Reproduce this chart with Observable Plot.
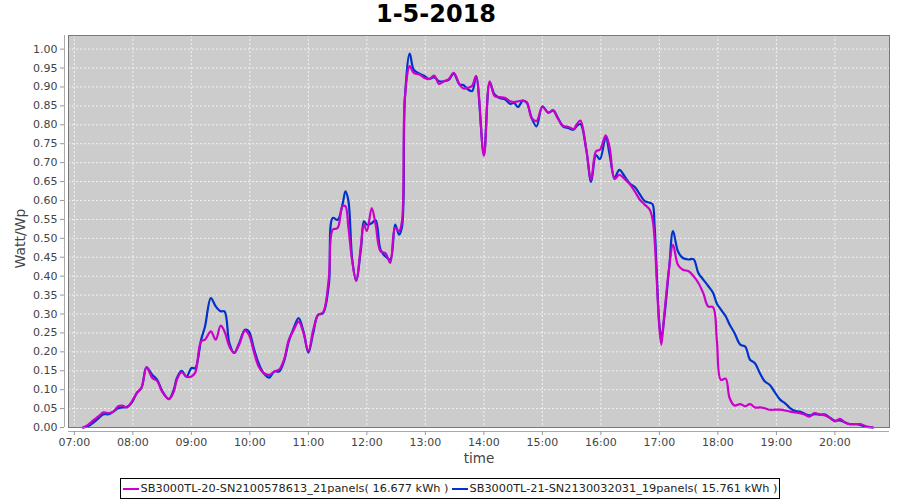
<!DOCTYPE html>
<html><head><meta charset="utf-8">
<script src="https://cdn.jsdelivr.net/npm/d3@7"></script>
<script src="https://cdn.jsdelivr.net/npm/@observablehq/plot@0.6"></script>
<style>
html,body{margin:0;padding:0;background:#fff;width:900px;height:500px;overflow:hidden;font-family:"DejaVu Sans",sans-serif;}
#title{height:28px;line-height:28px;font-weight:bold;font-size:24px;color:#000;text-align:center;padding-right:28px;}
#chart svg{display:block;}
#legendWrap{display:flex;justify-content:center;margin-top:8px;height:21px;}
#legend{display:flex;align-items:center;border:1px solid #000;height:19px;padding:0 2px;font-size:11.3px;color:#222;white-space:nowrap;line-height:19px;}
.sw{display:inline-block;width:16px;height:2px;margin-right:2px;}
.item{display:inline-flex;align-items:center;margin-right:3px;}
.item:last-child{margin-right:0;}
</style></head><body>
<div id="title">1-5-2018</div>
<div id="chart"></div>
<div id="legendWrap"><div id="legend"></div></div>
<script>
// ---- data ----
const seriesNames = ["SB3000TL-20-SN2100578613_21panels( 16.677 kWh )", "SB3000TL-21-SN2130032031_19panels( 15.761 kWh )"];
const seriesColors = ["#cc00cc", "#0033cc"];
const hourLabels = ["07:00","08:00","09:00","10:00","11:00","12:00","13:00","14:00","15:00","16:00","17:00","18:00","19:00","20:00"];
const yTicks = [0,0.05,0.1,0.15,0.2,0.25,0.3,0.35,0.4,0.45,0.5,0.55,0.6,0.65,0.7,0.75,0.8,0.85,0.9,0.95,1.0];
const xRange = ["06:54","20:56"];
const times = [
"07:09","07:14","07:20","07:25","07:30","07:35","07:40","07:45","07:49","07:54","07:59",
"08:04","08:09","08:14","08:20","08:25","08:30","08:37","08:42","08:45","08:50","08:55",
"09:00","09:04","09:10","09:14","09:20","09:25","09:30","09:34","09:39","09:44","09:49","09:55","09:59",
"10:04","10:09","10:14","10:20","10:25","10:30","10:35","10:40","10:45","10:50","10:55","11:00",
"11:05","11:10","11:15","11:21","11:25","11:30","11:35","11:38","11:41","11:45","11:49","11:54","11:57",
"12:00","12:05","12:09","12:14","12:19","12:24","12:29","12:33","12:36","12:39","12:44","12:48","12:54","12:59",
"13:04","13:09","13:14","13:19","13:24","13:29","13:35","13:39","13:44","13:48","13:52",
"14:00","14:06","14:11","14:16","14:22","14:27","14:31","14:35","14:40","14:44","14:49","14:54",
"15:00","15:06","15:11","15:16","15:21","15:27","15:32","15:35","15:39","15:45","15:50","15:55","15:59",
"16:05","16:09","16:14","16:19","16:25","16:30","16:35","16:40","16:45","16:50","16:53","16:55",
"17:00","17:02","17:05","17:10","17:14","17:19","17:24","17:30","17:35","17:40","17:45","17:50","17:55","17:59",
"18:03","18:08","18:12","18:17","18:23","18:28","18:33","18:38","18:43","18:48","18:53","18:58",
"19:04","19:09","19:14","19:19","19:24","19:29","19:34","19:39","19:45","19:50","19:55",
"20:00","20:05","20:10","20:15","20:21","20:26","20:31","20:39"
];
const magentaValues = [
0,.007,.02,.03,.04,.038,.042,.056,.058,.053,.069,
.091,.106,.159,.131,.123,.095,.075,.095,.125,.146,.134,
.135,.145,.228,.232,.254,.232,.269,.254,.214,.197,.219,.256,.245,
.201,.161,.144,.139,.148,.153,.179,.232,.258,.28,.25,.201,
.258,.298,.304,.395,.523,.527,.585,.585,.53,.439,.388,.483,.536,
.519,.58,.536,.466,.461,.435,.527,.519,.545,.871,.955,.937,.933,.924,
.921,.93,.908,.915,.921,.937,.907,.896,.898,.903,.929,
.718,.915,.876,.873,.871,.862,.86,.862,.864,.86,.818,.81,
.847,.832,.838,.816,.798,.794,.789,.8,.811,.735,.655,.73,.734,
.772,.74,.657,.668,.655,.642,.623,.602,.589,.576,.55,.5,
.263,.219,.298,.422,.483,.43,.417,.413,.4,.382,.355,.32,.318,.228,
.126,.129,.078,.058,.062,.056,.062,.053,.053,.051,.047,.047,
.047,.045,.042,.04,.038,.034,.029,.038,.034,.032,.025,
.016,.023,.014,.009,.009,.009,.004,0
];
const blueValues = [
0,.003,.014,.025,.035,.035,.042,.051,.053,.054,.066,
.091,.106,.159,.139,.126,.097,.075,.1,.13,.15,.134,
.157,.157,.232,.267,.342,.32,.307,.307,.223,.197,.223,.258,.254,
.21,.17,.144,.132,.148,.148,.175,.228,.263,.289,.254,.198,
.25,.298,.302,.377,.554,.549,.589,.624,.6,.444,.388,.474,.545,
.536,.54,.548,.47,.452,.444,.536,.51,.53,.871,.988,.946,.935,.929,
.921,.926,.915,.915,.919,.935,.907,.905,.893,.889,.929,
.722,.911,.88,.871,.867,.855,.858,.847,.864,.858,.818,.796,
.849,.832,.838,.818,.796,.791,.787,.796,.802,.735,.649,.72,.709,
.767,.721,.66,.681,.661,.644,.635,.616,.598,.594,.59,.536,
.272,.236,.29,.422,.519,.466,.448,.444,.445,.408,.391,.374,.356,.327,
.312,.294,.272,.25,.219,.214,.179,.17,.144,.122,.113,.095,
.073,.064,.051,.044,.042,.036,.032,.035,.034,.034,.026,
.018,.019,.014,.009,.009,.007,.002,0
];

// ---- build ----
const toDate = s => new Date(Date.UTC(2018, 4, 1, +s.slice(0, 2), +s.slice(3, 5)));
const magenta = times.map((t, i) => ({t: toDate(t), v: magentaValues[i]}));
const blue = times.map((t, i) => ({t: toDate(t), v: blueValues[i]}));
const xTicks = hourLabels.map(toDate);
const fmt = d3.utcFormat("%H:%M");

const chart = Plot.plot({
  width: 900,
  height: 442,
  marginTop: 7,
  marginLeft: 68,
  marginRight: 11,
  marginBottom: 43,
  style: {fontFamily: "DejaVu Sans, sans-serif", background: "transparent"},
  x: {type: "utc", domain: xRange.map(toDate)},
  y: {domain: [0, 1.036]},
  marks: [
    Plot.frame({fill: "#cccccc", stroke: "none"}),
    Plot.gridX(xTicks, {stroke: "#f2f2f2", strokeOpacity: 1, strokeDasharray: "2,2"}),
    Plot.gridY(yTicks, {stroke: "#f2f2f2", strokeOpacity: 1, strokeDasharray: "2,2"}),
    Plot.line(blue, {x: "t", y: "v", stroke: seriesColors[1], strokeWidth: 2.2, curve: "catmull-rom"}),
    Plot.line(magenta, {x: "t", y: "v", stroke: seriesColors[0], strokeWidth: 2.2, curve: "catmull-rom"}),
    Plot.frame({stroke: "#777", fill: "none"}),
    Plot.ruleX([toDate(xRange[0])], {dx: -4, stroke: "#aaa"}),
    Plot.ruleY([0], {dy: 4, stroke: "#aaa"}),
    Plot.axisY(yTicks, {anchor: "left", dx: -4, tickSize: 4, tickPadding: 3, tickFormat: d => d.toFixed(2), label: null, fontSize: 11, color: "#444", stroke: "#999"}),
    Plot.axisX(xTicks, {anchor: "bottom", dy: 4, tickSize: 4, tickPadding: 3, tickFormat: fmt, label: null, fontSize: 11, color: "#444", stroke: "#999"}),
    Plot.text(["Watt/Wp"], {frameAnchor: "left", textAnchor: "middle", dx: -48, dy: 7, rotate: -90, fontSize: 14, fill: "#444"}),
    Plot.text(["time"], {frameAnchor: "bottom", dy: 35, fontSize: 13.5, fill: "#444"})
  ]
});
document.getElementById("chart").appendChild(chart);

const legend = document.getElementById("legend");
seriesNames.forEach((name, i) => {
  const item = document.createElement("span");
  item.className = "item";
  const sw = document.createElement("span");
  sw.className = "sw";
  sw.style.background = seriesColors[i];
  item.appendChild(sw);
  item.appendChild(document.createTextNode(name));
  legend.appendChild(item);
});
</script>
</body></html>
